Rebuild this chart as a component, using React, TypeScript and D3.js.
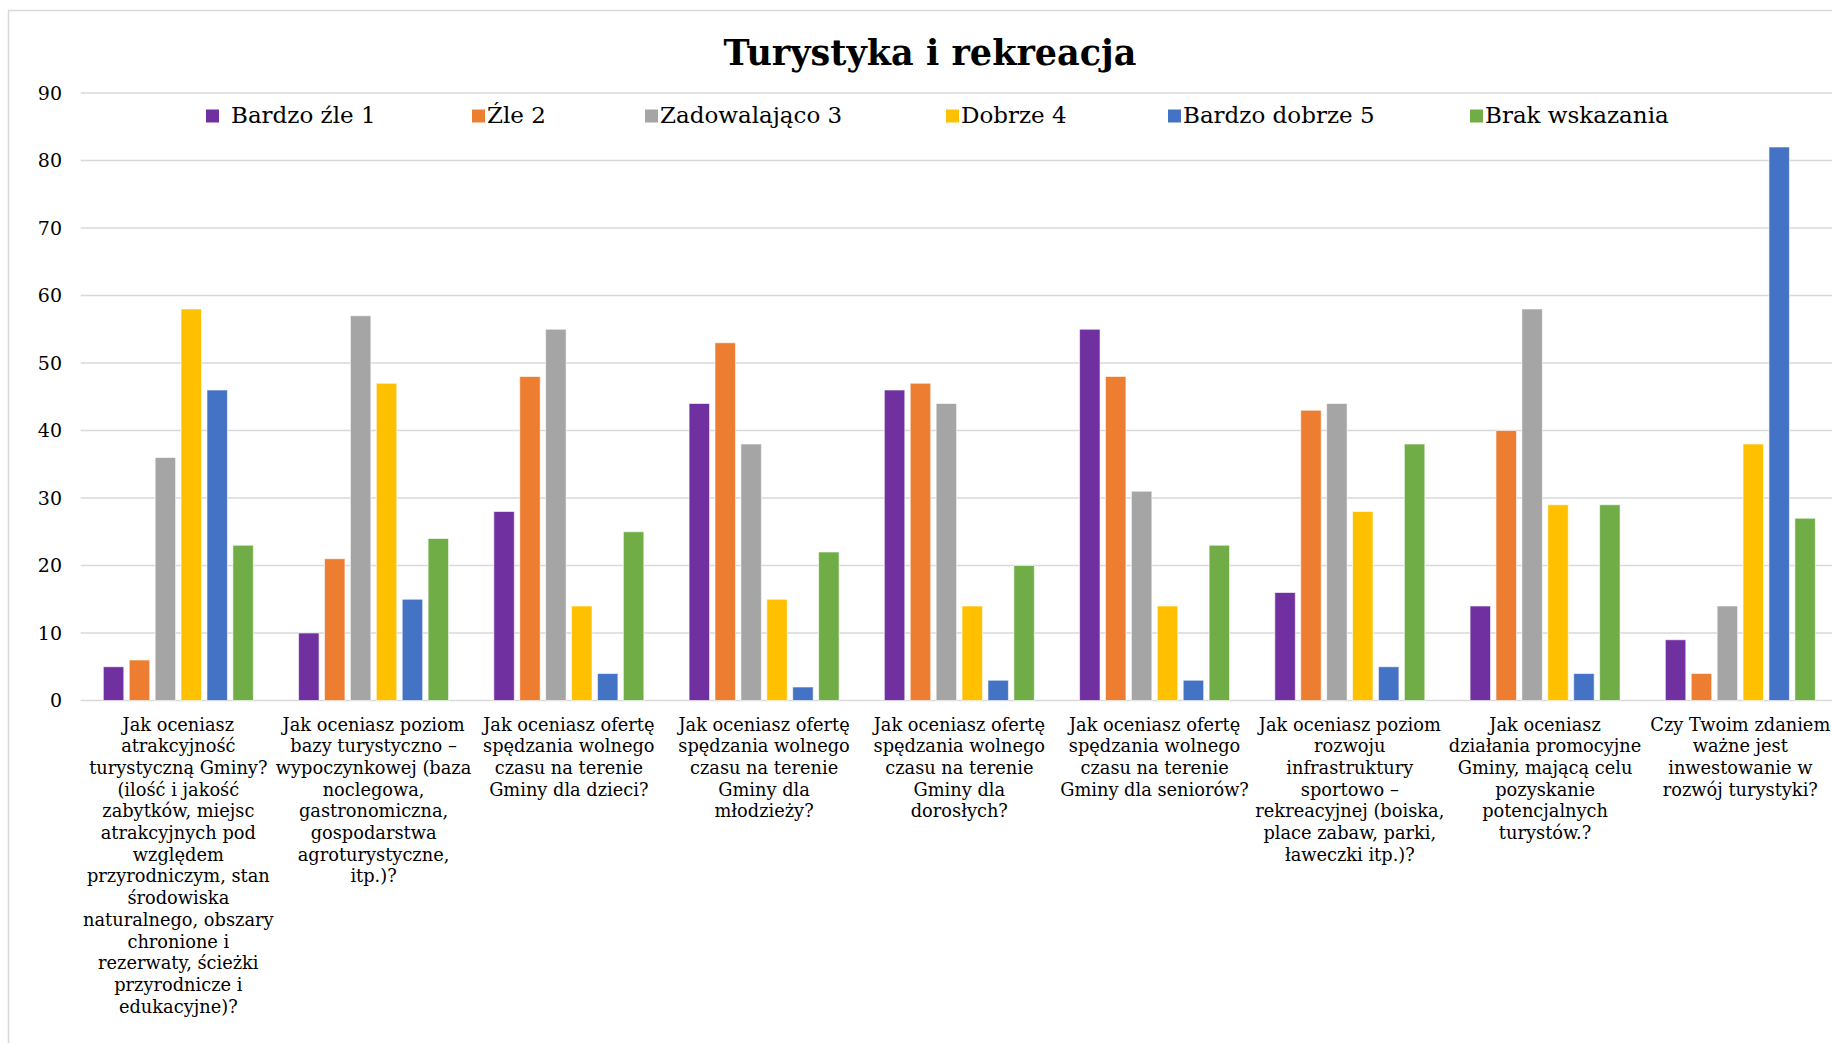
import React, { useEffect } from "react";
import * as d3 from "d3";

const categories = [
  "Jak oceniasz\natrakcyjność\nturystyczną Gminy?\n(ilość i jakość\nzabytków, miejsc\natrakcyjnych pod\nwzględem\nprzyrodniczym, stan\nśrodowiska\nnaturalnego, obszary\nchronione i\nrezerwaty, ścieżki\nprzyrodnicze i\nedukacyjne)?",
  "Jak oceniasz poziom\nbazy turystyczno –\nwypoczynkowej (baza\nnoclegowa,\ngastronomiczna,\ngospodarstwa\nagroturystyczne,\nitp.)?",
  "Jak oceniasz ofertę\nspędzania wolnego\nczasu na terenie\nGminy dla dzieci?",
  "Jak oceniasz ofertę\nspędzania wolnego\nczasu na terenie\nGminy dla\nmłodzieży?",
  "Jak oceniasz ofertę\nspędzania wolnego\nczasu na terenie\nGminy dla\ndorosłych?",
  "Jak oceniasz ofertę\nspędzania wolnego\nczasu na terenie\nGminy dla seniorów?",
  "Jak oceniasz poziom\nrozwoju\ninfrastruktury\nsportowo –\nrekreacyjnej (boiska,\nplace zabaw, parki,\nławeczki itp.)?",
  "Jak oceniasz\ndziałania promocyjne\nGminy, mającą celu\npozyskanie\npotencjalnych\nturystów.?",
  "Czy Twoim zdaniem\nważne jest\ninwestowanie w\nrozwój turystyki?",
];

const seriesNames = ["Bardzo źle 1", "Źle 2", "Zadowalająco 3", "Dobrze 4", "Bardzo dobrze 5", "Brak wskazania"];
const seriesColors = ["#7030A0", "#ED7D31", "#A5A5A5", "#FFC000", "#4472C4", "#70AD47"];

const bardzoZle1 = [5, 10, 28, 44, 46, 55, 16, 14, 9];
const zle2 = [6, 21, 48, 53, 47, 48, 43, 40, 4];
const zadowalajaco3 = [36, 57, 55, 38, 44, 31, 44, 58, 14];
const dobrze4 = [58, 47, 14, 15, 14, 14, 28, 29, 38];
const bardzoDobrze5 = [46, 15, 4, 2, 3, 3, 5, 4, 82];
const brakWskazania = [23, 24, 25, 22, 20, 23, 38, 29, 27];

const yTicks = [0, 10, 20, 30, 40, 50, 60, 70, 80, 90];
const chartTitle = "Turystyka i rekreacja";

const W = 1832;
const H = 1043;
const FONT = "'DejaVu Serif', serif";

export default function App() {
  useEffect(() => {
    document.body.style.margin = "0";
    document.body.style.overflow = "hidden";
  }, []);

  const series = [bardzoZle1, zle2, zadowalajaco3, dobrze4, bardzoDobrze5, brakWskazania];

  const plotLeft = 80.7;
  const step = 195.25;
  const x0 = d3
    .scaleBand<number>()
    .domain(d3.range(categories.length))
    .range([plotLeft, plotLeft + step * categories.length])
    .paddingInner(0.2318)
    .paddingOuter(0.1159);
  const x1 = d3
    .scaleBand<number>()
    .domain(d3.range(seriesNames.length))
    .range([0, x0.bandwidth()])
    .paddingInner(0.21)
    .paddingOuter(0);
  const y = d3.scaleLinear().domain([0, 90]).range([700.5, 93]);

  const legendSquareX = [206, 472, 645, 946, 1168, 1470];
  const legendTextGap = [12, 2, 2, 2, 2, 2];

  return (
    <svg width={W} height={H} style={{ position: "absolute", left: 0, top: 0, background: "#fff" }}>
      <rect x={0} y={0} width={W} height={H} fill="#fff" />
      <rect x={8.5} y={10.5} width={W + 20} height={H + 20} fill="none" stroke="#D9D9D9" strokeWidth={1.5} />
      <text x={930} y={65} textAnchor="middle" fontFamily={FONT} fontWeight="bold" fontSize={35} fill="#000">
        {chartTitle}
      </text>
      {yTicks.map((t) => (
        <g key={t}>
          <line x1={plotLeft} x2={W + 10} y1={y(t)} y2={y(t)} stroke="#D9D9D9" strokeWidth={1.5} />
          <text x={62} y={y(t) + 6.5} textAnchor="end" fontFamily={FONT} fontSize={19} fill="#000">
            {t}
          </text>
        </g>
      ))}
      {series.map((vals, si) => (
        <g key={si}>
          {vals.map((v, ci) => (
            <rect
              key={ci}
              x={(x0(ci) as number) + (x1(si) as number)}
              y={y(v)}
              width={x1.bandwidth()}
              height={y(0) - y(v)}
              fill={seriesColors[si]}
              stroke="#fff"
              strokeOpacity={0.6}
              strokeWidth={1}
            />
          ))}
        </g>
      ))}
      {categories.map((c, ci) => {
        const cx = (x0(ci) as number) + x0.bandwidth() / 2;
        return (
          <text key={ci} textAnchor="middle" fontFamily={FONT} fontSize={17.8} fill="#000">
            {c.split("\n").map((line, li) => (
              <tspan key={li} x={cx} y={730.5 + li * 21.7}>
                {line}
              </tspan>
            ))}
          </text>
        );
      })}
      {seriesNames.map((n, si) => (
        <g key={si}>
          <rect x={legendSquareX[si]} y={109.5} width={13} height={13} fill={seriesColors[si]} />
          <text
            x={legendSquareX[si] + 13 + legendTextGap[si]}
            y={122.5}
            fontFamily={FONT}
            fontSize={23}
            fill="#000"
          >
            {n}
          </text>
        </g>
      ))}
    </svg>
  );
}
